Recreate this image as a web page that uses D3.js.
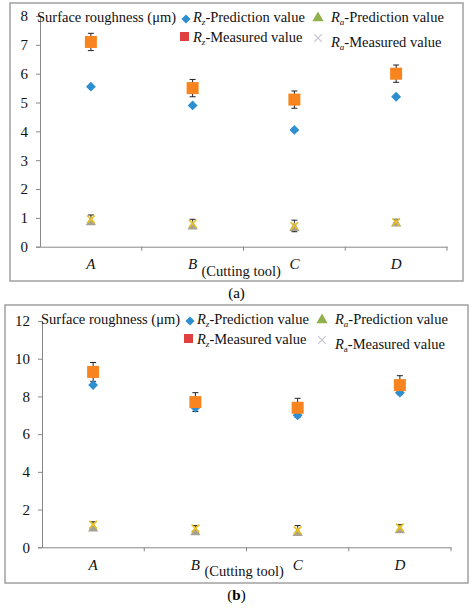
<!DOCTYPE html><html><head><meta charset="utf-8"><script src="https://cdn.jsdelivr.net/npm/d3@7"></script>
<style>body{margin:0;background:#fff}svg,svg text{font-family:"Liberation Serif","Times New Roman",serif}</style></head><body>
<svg id="c" width="474" height="608"></svg>
<script>
const categories=["A","B","C","D"];
const rzPredA=[5.55,4.9,4.05,5.2], rzMeasA=[7.1,5.5,5.1,6.0], rzErrA=[0.3,0.3,0.3,0.3];
const raPredA=[0.85,0.7,0.65,0.8], raMeasA=[0.95,0.8,0.72,0.85], raErrA=[0.15,0.15,0.2,0.1];
const rzPredB=[8.6,7.4,7.0,8.2], rzMeasB=[9.3,7.7,7.4,8.6], rzErrB=[0.5,0.5,0.5,0.5];
const raPredB=[1.0,0.8,0.75,0.9], raMeasB=[1.2,1.0,0.9,1.05], raErrB=[0.15,0.15,0.25,0.15];
const ticksA=[0,1,2,3,4,5,6,7,8], ticksB=[0,2,4,6,8,10,12];
const svg=d3.select("#c");
const FF="Liberation Serif";
function panel(o){
  const g=svg.append("g");
  g.append("rect").attr("x",o.bx).attr("y",o.by).attr("width",o.bw).attr("height",o.bh).attr("fill","none").attr("stroke","#a0a0a0").attr("stroke-width",1.5);
  const x=d3.scaleBand().domain(categories).range([o.x0,o.x1]);
  const y=d3.scaleLinear().domain([0,o.max]).range([o.y0,o.y1]);
  const cx=c=>x(c)+x.bandwidth()/2;
  g.append("g").attr("transform",`translate(${o.x0},0)`).call(d3.axisLeft(y).tickValues(o.ticks).tickSize(4).tickPadding(8))
   .attr("font-family",FF).attr("font-size",15)
   .call(a=>{a.select(".domain").attr("stroke","#888");a.selectAll("line").attr("stroke","#888");a.selectAll("text").attr("fill","#111");});
  g.append("g").attr("transform",`translate(0,${o.y0})`).call(d3.axisBottom(x).tickSize(0).tickPadding(12))
   .attr("font-family",FF).attr("font-size",15)
   .call(a=>{a.select(".domain").attr("stroke","#888");a.selectAll("text").attr("font-style","italic").attr("fill","#111");});
  categories.forEach((c,i)=>{if(i>0)g.append("line").attr("x1",x(c)).attr("x2",x(c)).attr("y1",o.y0).attr("y2",o.y0+4).attr("stroke","#888");});
  g.append("line").attr("x1",o.x1).attr("x2",o.x1).attr("y1",o.y0).attr("y2",o.y0+4).attr("stroke","#888");
  function err(vals,errs){categories.forEach((c,i)=>{const X=cx(c),a=y(vals[i]-errs[i]),b=y(vals[i]+errs[i]);
    g.append("line").attr("x1",X).attr("x2",X).attr("y1",a).attr("y2",b).attr("stroke","#222");
    [a,b].forEach(v=>g.append("line").attr("x1",X-3).attr("x2",X+3).attr("y1",v).attr("y2",v).attr("stroke","#222"));});}
  err(o.rzM,o.rzE); err(o.raM,o.raE);
  const sym=(t,s)=>d3.symbol().type(t).size(s)();
  const dia=(xx,yy,s)=>g.append("rect").attr("x",-s/2).attr("y",-s/2).attr("width",s).attr("height",s).attr("fill","#2e8fd0").attr("transform",`translate(${xx},${yy}) rotate(45)`);
  categories.forEach((c,i)=>{
    g.append("path").attr("d",sym(d3.symbolTriangle,45)).attr("transform",`translate(${cx(c)},${y(o.raP[i])})`).attr("fill","#a8a294");
    g.append("path").attr("d",sym(d3.symbolX,40)).attr("transform",`translate(${cx(c)},${y(o.raM[i])})`).attr("stroke","#e8c020").attr("stroke-width",1.6).attr("fill","none");
    dia(cx(c),y(o.rzP[i]),7);
    g.append("rect").attr("x",cx(c)-6).attr("y",y(o.rzM[i])-6).attr("width",12).attr("height",12).attr("fill","#f7841e");
  });
  const L=o.leg, fs=14.5;
  const t=(xx,yy,html)=>g.append("text").attr("x",xx).attr("y",yy).attr("font-size",fs).attr("fill","#111").html(html);
  t(L.x,L.y,"Surface roughness (μm)");
  dia(L.x+149,L.y-3,6.5);
  t(L.x+156,L.y,'<tspan font-style="italic">R</tspan><tspan font-size="9" font-style="italic" dy="3">z</tspan><tspan dy="-3">-Prediction value</tspan>');
  g.append("path").attr("d",sym(d3.symbolTriangle,55)).attr("transform",`translate(${L.x+281},${L.y-4})`).attr("fill","#8fb04a");
  t(L.x+294,L.y,'<tspan font-style="italic">R</tspan><tspan font-size="9" font-style="italic" dy="3">a</tspan><tspan dy="-3">-Prediction value</tspan>');
  g.append("rect").attr("x",L.x+143).attr("y",L.y+10).attr("width",9).attr("height",9).attr("fill","#e04040");
  t(L.x+156,L.y+20,'<tspan font-style="italic">R</tspan><tspan font-size="9" font-style="italic" dy="3">z</tspan><tspan dy="-3">-Measured value</tspan>');
  g.append("path").attr("d",sym(d3.symbolX,40)).attr("transform",`translate(${L.x+281},${L.y+16})`).attr("stroke","#c8c4d4").attr("stroke-width",1.2).attr("fill","none");
  t(L.x+294,L.y+25,'<tspan font-style="italic">R</tspan><tspan font-size="9" font-style="'+o.aStyle+'" dy="3">a</tspan><tspan dy="-3">-Measured value</tspan>');
  t((o.x0+o.x1)/2-42,o.y0+29,"(Cutting tool)");
  g.append("text").attr("x",(o.bx+o.bw/2)).attr("y",o.by+o.bh+17).attr("text-anchor","middle").attr("font-size",15).html(o.lab);
}
panel({bx:10,by:3,bw:453,bh:278,x0:40,x1:447,y0:246.7,y1:16,max:8,ticks:ticksA,rzP:rzPredA,rzM:rzMeasA,rzE:rzErrA,raP:raPredA,raM:raMeasA,raE:raErrA,leg:{x:37,y:22},aStyle:"italic",lab:"(<tspan font-weight='normal'>a</tspan>)"});
panel({bx:5,by:305,bw:463,bh:278,x0:42,x1:451,y0:547.3,y1:321,max:12,ticks:ticksB,rzP:rzPredB,rzM:rzMeasB,rzE:rzErrB,raP:raPredB,raM:raMeasB,raE:raErrB,leg:{x:41,y:324},aStyle:"normal",lab:"(<tspan font-weight='bold'>b</tspan>)"});
</script></body></html>
